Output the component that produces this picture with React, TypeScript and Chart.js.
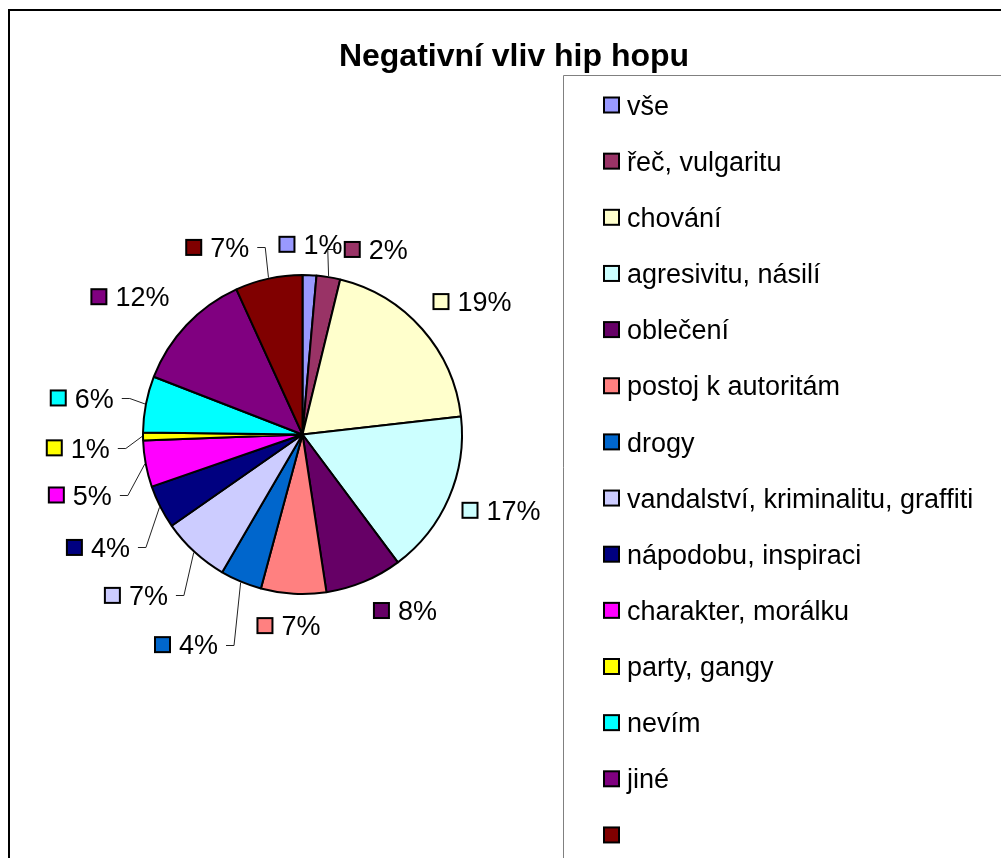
import { useEffect, useRef } from "react";
import { Chart, registerables } from "chart.js";

Chart.register(...registerables);

const TITLE = "Negativní vliv hip hopu";

const categories = [
  "vše",
  "řeč, vulgaritu",
  "chování",
  "agresivitu, násilí",
  "oblečení",
  "postoj k autoritám",
  "drogy",
  "vandalství, kriminalitu, graffiti",
  "nápodobu, inspiraci",
  "charakter, morálku",
  "party, gangy",
  "nevím",
  "jiné",
  "",
];

const shares = [1.4, 2.4, 19.4, 16.6, 7.8, 6.6, 4.2, 6.9, 4.4, 4.7, 0.8, 5.7, 12.3, 6.8];

const colors = [
  "#9999FF", "#993366", "#FFFFCC", "#CCFFFF", "#660066", "#FF8080", "#0066CC",
  "#CCCCFF", "#000080", "#FF00FF", "#FFFF00", "#00FFFF", "#800080", "#800000",
];

// Data-label layout (angle in degrees clockwise from 12 o'clock, distance in radii)
const labelAngle = [2.4, 21.6, 51.9, 110.9, 149.8, 184.2, 209, 226, 241.1, 254.8, 266.6, 279.4, 308.6, 335.5];
const labelDist = [1.186, 1.24, 1.342, 1.324, 1.269, 1.194, 1.497, 1.443, 1.456, 1.4375, 1.4025, 1.394, 1.376, 1.281];
const labelLeader = [false, true, false, false, false, false, true, true, true, true, true, true, false, true];

const FONT = '"Liberation Sans", Arial, Helvetica, sans-serif';
const LABEL_SIZE = 27;
const LEGEND_SIZE = 27;
const TITLE_SIZE = 32;

const decorPlugin = {
  id: "decor",
  beforeDraw(chart: any) {
    const ctx = chart.ctx as CanvasRenderingContext2D;
    const W = chart.width;
    const H = chart.height;
    ctx.save();
    ctx.fillStyle = "#ffffff";
    ctx.fillRect(0, 0, W, H);
    // outer chart frame
    ctx.strokeStyle = "#000000";
    ctx.lineWidth = 2;
    ctx.beginPath();
    ctx.moveTo(9, H + 5);
    ctx.lineTo(9, 10);
    ctx.lineTo(W + 5, 10);
    ctx.stroke();
    // legend box
    ctx.strokeStyle = "#808080";
    ctx.lineWidth = 1;
    ctx.beginPath();
    ctx.moveTo(563.5, H + 5);
    ctx.lineTo(563.5, 75.5);
    ctx.lineTo(W + 5, 75.5);
    ctx.stroke();
    // title
    ctx.fillStyle = "#000000";
    ctx.font = `bold ${TITLE_SIZE}px ${FONT}`;
    ctx.textAlign = "center";
    ctx.textBaseline = "alphabetic";
    ctx.fillText(TITLE, 514, 66);
    // legend
    ctx.font = `${LEGEND_SIZE}px ${FONT}`;
    ctx.textAlign = "left";
    const labels = chart.data.labels as string[];
    const bg = chart.data.datasets[0].backgroundColor as string[];
    labels.forEach((lab, i) => {
      const cy = 105 + i * 56.15;
      ctx.fillStyle = bg[i];
      ctx.fillRect(604, cy - 7.5, 15, 15);
      ctx.strokeStyle = "#000000";
      ctx.lineWidth = 2;
      ctx.strokeRect(604, cy - 7.5, 15, 15);
      ctx.fillStyle = "#000000";
      ctx.fillText(lab, 627, cy + 0.358 * LEGEND_SIZE);
    });
    ctx.restore();
  },
  afterDatasetsDraw(chart: any) {
    const ctx = chart.ctx as CanvasRenderingContext2D;
    const meta = chart.getDatasetMeta(0);
    const values = chart.data.datasets[0].data as number[];
    const bg = chart.data.datasets[0].backgroundColor as string[];
    const total = values.reduce((a, b) => a + b, 0);
    ctx.save();
    ctx.font = `${LABEL_SIZE}px ${FONT}`;
    ctx.textAlign = "left";
    ctx.textBaseline = "alphabetic";
    meta.data.forEach((el: any, i: number) => {
      const p = el.getProps(["x", "y", "outerRadius", "startAngle", "endAngle"], true);
      const R = p.outerRadius + 1;
      const mid = (p.startAngle + p.endAngle) / 2;
      const a = (labelAngle[i] * Math.PI) / 180 - Math.PI / 2;
      const cx = p.x + R * labelDist[i] * Math.cos(a);
      const cy = p.y + R * labelDist[i] * Math.sin(a);
      const text = Math.round((values[i] / total) * 100) + "%";
      const tw = ctx.measureText(text).width;
      const gw = 17 + 8 + tw;
      const left = cx - gw / 2;
      // key
      ctx.fillStyle = bg[i];
      ctx.fillRect(left + 1, cy - 7.5, 15, 15);
      ctx.strokeStyle = "#000000";
      ctx.lineWidth = 2;
      ctx.strokeRect(left + 1, cy - 7.5, 15, 15);
      ctx.fillStyle = "#000000";
      ctx.fillText(text, left + 25, cy + 0.358 * LABEL_SIZE);
      if (labelLeader[i]) {
        const ex = p.x + R * Math.cos(mid);
        const ey = p.y + R * Math.sin(mid);
        const ly = Math.round(cy) + 0.5;
        ctx.strokeStyle = "#222222";
        ctx.lineWidth = 1;
        ctx.beginPath();
        if (ex > cx) {
          const sx = cx + gw / 2 + 8;
          ctx.moveTo(sx, ly);
          ctx.lineTo(sx + 8, ly);
        } else {
          const sx = cx - gw / 2 - 8;
          ctx.moveTo(sx, ly);
          ctx.lineTo(sx - 8, ly);
        }
        ctx.lineTo(ex, ey);
        ctx.stroke();
      }
    });
    ctx.restore();
  },
};

export default function App() {
  const ref = useRef<HTMLCanvasElement | null>(null);
  useEffect(() => {
    if (!ref.current) return;
    const chart = new Chart(ref.current, {
      type: "pie",
      data: {
        labels: categories,
        datasets: [
          {
            data: shares,
            backgroundColor: colors,
            borderColor: "#000000",
            borderWidth: 2,
          },
        ],
      },
      options: {
        responsive: false,
        animation: false,
        events: [],
        layout: { padding: { left: 142, top: 274, right: 538, bottom: 263 } },
        plugins: {
          legend: { display: false },
          tooltip: { enabled: false },
          title: { display: false },
        },
      },
      plugins: [decorPlugin],
    });
    return () => chart.destroy();
  }, []);
  return (
    <div style={{ position: "fixed", left: 0, top: 0, width: 1001, height: 858, background: "#fff" }}>
      <canvas ref={ref} width={1001} height={858} style={{ display: "block", width: 1001, height: 858 }} />
    </div>
  );
}
